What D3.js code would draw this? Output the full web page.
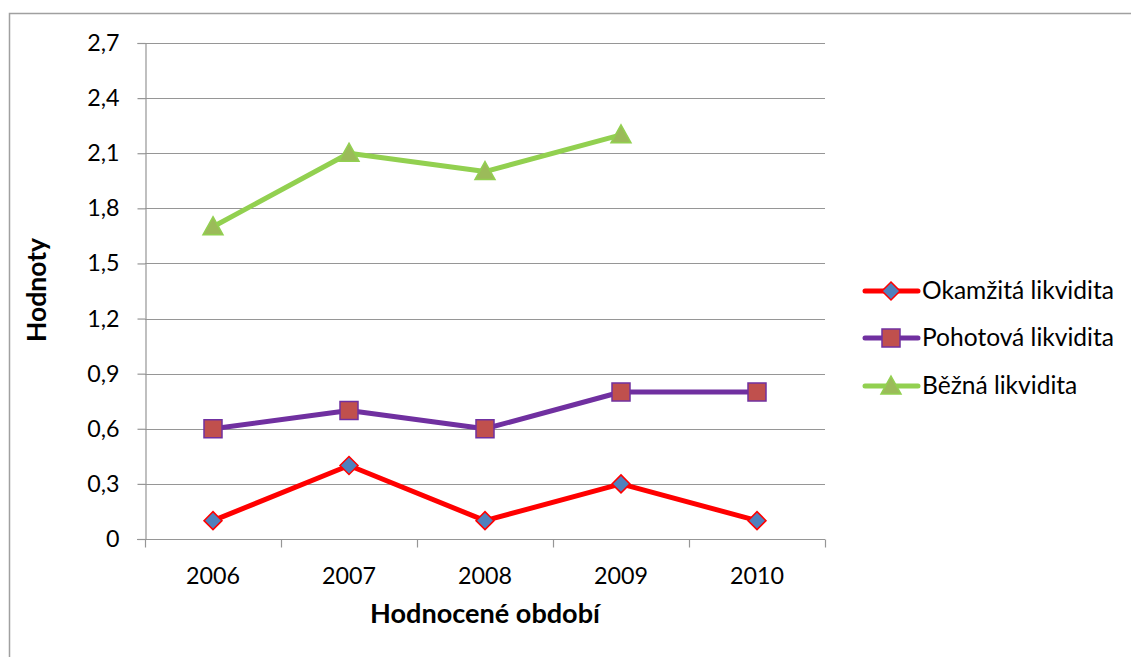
<!DOCTYPE html>
<html>
<head>
<meta charset="utf-8">
<script src="https://cdn.jsdelivr.net/npm/d3@7"></script>
<style>
  html, body { margin: 0; padding: 0; background: #fff; }
  svg { display: block; font-family: Lato, "Open Sans", sans-serif; }
</style>
</head>
<body>
<svg id="chart" width="1131" height="657"></svg>
<script>
// Liquidity ratios by year
const years = ["2006", "2007", "2008", "2009", "2010"];
const okamzita = [0.1, 0.4, 0.1, 0.3, 0.1];
const pohotova = [0.6, 0.7, 0.6, 0.8, 0.8];
const bezna = [1.7, 2.1, 2.0, 2.2, null];
const yTicks = [0, 0.3, 0.6, 0.9, 1.2, 1.5, 1.8, 2.1, 2.4, 2.7];
const seriesNames = ["Okamžitá likvidita", "Pohotová likvidita", "Běžná likvidita"];

const series = [
  { name: seriesNames[0], values: okamzita, line: "#FF0000", fill: "#4F81BD", stroke: "#FF0000", shape: "diamond" },
  { name: seriesNames[1], values: pohotova, line: "#7030A0", fill: "#C0504D", stroke: "#7030A0", shape: "square" },
  { name: seriesNames[2], values: bezna, line: "#92D050", fill: "#9BBB59", stroke: "#92D050", shape: "triangle" }
];

const svg = d3.select("#chart");
const plot = { left: 145, right: 825, top: 43, bottom: 539 };

// Pick a font size so that a sample string spans the wanted width
function fitSize(text, width, weight) {
  const t = svg.append("text").attr("font-size", 20).attr("font-weight", weight || "normal").text(text);
  const w = t.node().getComputedTextLength();
  t.remove();
  return 20 * width / w;
}
const tickSize = fitSize("2006", 54);
const legendSize = fitSize("Okamžitá likvidita", 192);
const xTitleSize = fitSize("Hodnocené období", 230, "bold");
const yTitleSize = fitSize("Hodnoty", 104, "bold");

// Chart frame
svg.append("rect")
  .attr("x", 9.5).attr("y", 13.5)
  .attr("width", 1200).attr("height", 700)
  .attr("fill", "none").attr("stroke", "#a0a0a0").attr("stroke-width", 1.5);

const x = d3.scaleBand().domain(years).range([plot.left, plot.right]);
const y = d3.scaleLinear().domain([0, 2.7]).range([plot.bottom, plot.top]);

// Horizontal gridlines
svg.append("g").selectAll("line")
  .data(yTicks.filter(t => t > 0))
  .join("line")
  .attr("x1", plot.left).attr("x2", plot.right)
  .attr("y1", d => Math.round(y(d)) + 0.5).attr("y2", d => Math.round(y(d)) + 0.5)
  .attr("stroke", "#969696").attr("stroke-width", 1.2);

// Y axis
const yAxis = svg.append("g")
  .attr("transform", `translate(${plot.left + 0.5},0)`)
  .call(d3.axisLeft(y).tickValues(yTicks).tickSize(8).tickPadding(18)
    .tickFormat(d => d === 0 ? "0" : d3.format(".1f")(d).replace(".", ",")));
yAxis.select(".domain").attr("stroke", "#969696").attr("stroke-width", 1.2);
yAxis.selectAll(".tick line").attr("stroke", "#969696").attr("stroke-width", 1.2);
yAxis.selectAll(".tick text").attr("font-size", tickSize).attr("fill", "#000")
  .attr("font-family", "Lato, sans-serif");

// X axis with ticks at category boundaries
const xAxisG = svg.append("g").attr("transform", `translate(0,${plot.bottom + 0.5})`);
xAxisG.append("line")
  .attr("x1", plot.left - 8).attr("x2", plot.right)
  .attr("stroke", "#969696").attr("stroke-width", 1.2);
const bounds = years.map(d => x(d)).concat([plot.right]);
xAxisG.selectAll("line.tk").data(bounds).join("line").attr("class", "tk")
  .attr("x1", d => Math.round(d) + 0.5).attr("x2", d => Math.round(d) + 0.5)
  .attr("y1", 0).attr("y2", 8)
  .attr("stroke", "#969696").attr("stroke-width", 1.2);
xAxisG.selectAll("text").data(years).join("text")
  .attr("x", d => x(d) + x.bandwidth() / 2)
  .attr("y", 44)
  .attr("text-anchor", "middle")
  .attr("font-size", tickSize).attr("fill", "#000")
  .text(d => d);

// Axis titles
svg.append("text")
  .attr("x", x("2008") + x.bandwidth() / 2).attr("y", 623)
  .attr("text-anchor", "middle").attr("font-size", xTitleSize).attr("font-weight", "bold")
  .text("Hodnocené období");
svg.append("text")
  .attr("transform", `translate(46,290) rotate(-90)`)
  .attr("text-anchor", "middle").attr("font-size", yTitleSize).attr("font-weight", "bold")
  .text("Hodnoty");

function markerPath(shape) {
  if (shape === "diamond") return "M0,-9 L9,0 L0,9 L-9,0 Z";
  if (shape === "square") return "M-9,-9 H9 V9 H-9 Z";
  return "M0,-10 L10,8 L-10,8 Z";
}

const cx = d => x(d) + x.bandwidth() / 2;

// Series lines and markers
series.forEach(s => {
  const pts = years.map((yr, i) => ({ yr, v: s.values[i] })).filter(p => p.v != null);
  svg.append("path")
    .datum(pts)
    .attr("fill", "none")
    .attr("stroke", s.line).attr("stroke-width", 5)
    .attr("stroke-linejoin", "round").attr("stroke-linecap", "round")
    .attr("d", d3.line().x(p => cx(p.yr)).y(p => y(p.v)));
  svg.append("g").selectAll("path")
    .data(pts).join("path")
    .attr("transform", p => `translate(${cx(p.yr)},${y(p.v)})`)
    .attr("d", markerPath(s.shape))
    .attr("fill", s.fill).attr("stroke", s.stroke).attr("stroke-width", 1.5);
});

// Legend
const legend = svg.append("g");
const legendY = [291, 338, 386];
series.forEach((s, i) => {
  const g = legend.append("g").attr("transform", `translate(0,${legendY[i]})`);
  g.append("line").attr("x1", 865).attr("x2", 918)
    .attr("stroke", s.line).attr("stroke-width", 5).attr("stroke-linecap", "round");
  g.append("path").attr("transform", "translate(891,0)")
    .attr("d", markerPath(s.shape))
    .attr("fill", s.fill).attr("stroke", s.stroke).attr("stroke-width", 1.5);
  g.append("text").attr("x", 922).attr("y", 8)
    .attr("font-size", legendSize).attr("fill", "#000").text(s.name);
});
</script>
</body>
</html>
